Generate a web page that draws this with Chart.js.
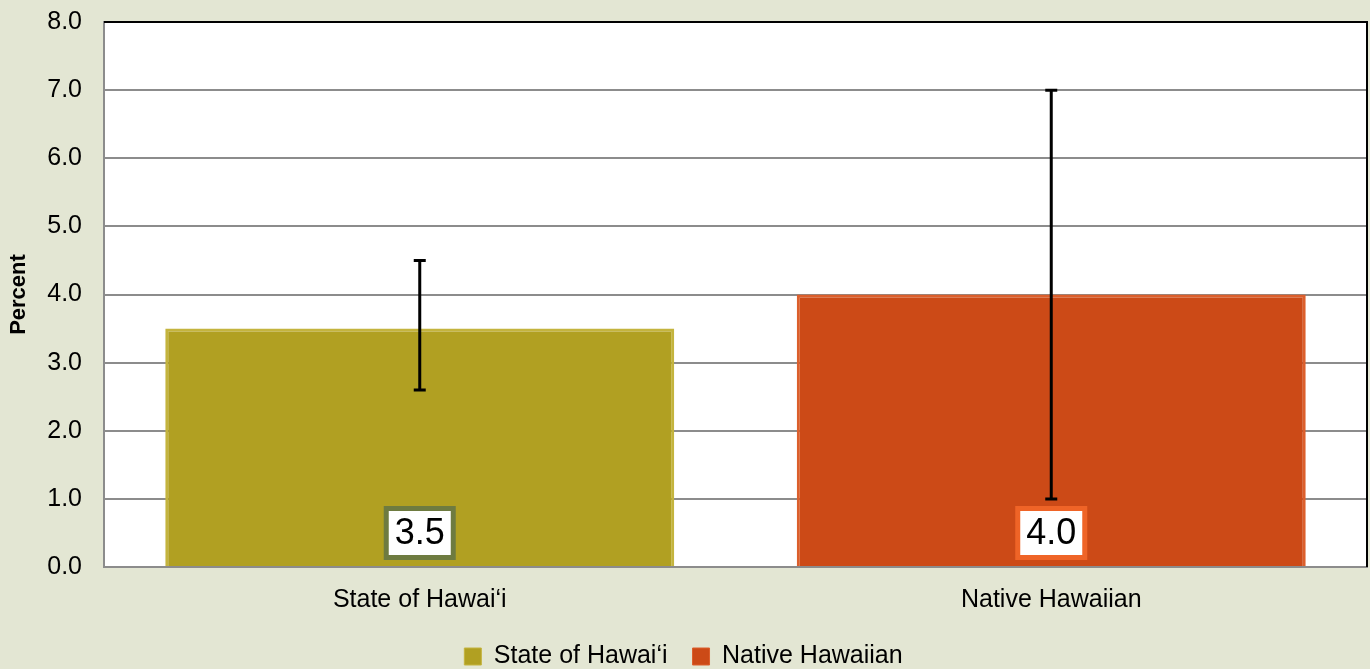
<!DOCTYPE html>
<html>
<head>
<meta charset="utf-8">
<script src="https://cdn.jsdelivr.net/npm/chart.js@4.4.1/dist/chart.umd.min.js"></script>
<style>
  html, body { margin: 0; padding: 0; background: #e3e6d3; }
  #wrap { width: 1370px; height: 669px; position: relative; }
</style>
</head>
<body>
<div id="wrap"><canvas id="myChart"></canvas></div>
<script>
const categories = ['State of Hawai\u2018i', 'Native Hawaiian'];
const percentValues = [3.5, 4.0];
const ciLower = [2.6, 1.0];
const ciUpper = [4.5, 7.0];
const yTicks = [0, 1, 2, 3, 4, 5, 6, 7, 8];

const barColors = ['#b1a022', '#cc4a17'];
const barRims = ['#c4b43e', '#dc5f2c'];
const labelBorders = ['#6e7b40', '#ef6427'];
const FONT = '"Liberation Sans", Arial, sans-serif';

// error bars + boxed value labels near the bar base
const extrasPlugin = {
  id: 'extras',
  afterDatasetsDraw(chart) {
    const ctx = chart.ctx;
    const x = chart.scales.x;
    const y = chart.scales.y;
    ctx.save();
    categories.forEach((cat, i) => {
      const cx = x.getPixelForValue(i);
      // error bar
      const top = y.getPixelForValue(ciUpper[i]);
      const bot = y.getPixelForValue(ciLower[i]);
      ctx.strokeStyle = '#000';
      ctx.lineWidth = 3;
      ctx.beginPath();
      ctx.moveTo(cx, top); ctx.lineTo(cx, bot);
      ctx.moveTo(cx - 6, top); ctx.lineTo(cx + 6, top);
      ctx.moveTo(cx - 6, bot); ctx.lineTo(cx + 6, bot);
      ctx.stroke();
      // value label
      const ly = y.bottom - 34;
      ctx.fillStyle = labelBorders[i];
      ctx.fillRect(cx - 36, ly - 27, 72, 54);
      ctx.fillStyle = '#fff';
      ctx.fillRect(cx - 31, ly - 22, 62, 44);
      ctx.fillStyle = '#000';
      ctx.font = '36px ' + FONT;
      ctx.textAlign = 'center';
      ctx.textBaseline = 'middle';
      ctx.fillText(percentValues[i].toFixed(1), cx, ly + 1);
    });
    // frame: top and right dark
    ctx.lineWidth = 2;
    ctx.strokeStyle = '#000';
    ctx.beginPath();
    ctx.moveTo(chart.chartArea.left, chart.chartArea.top);
    ctx.lineTo(chart.chartArea.right, chart.chartArea.top);
    ctx.lineTo(chart.chartArea.right, chart.chartArea.bottom);
    ctx.stroke();
    ctx.restore();
  }
};

const bgPlugin = {
  id: 'plotBg',
  beforeDraw(chart) {
    const a = chart.chartArea;
    const ctx = chart.ctx;
    ctx.save();
    ctx.fillStyle = '#e3e6d3';
    ctx.fillRect(0, 0, chart.width, chart.height);
    ctx.fillStyle = '#ffffff';
    ctx.fillRect(a.left, a.top, a.right - a.left, a.bottom - a.top);
    ctx.restore();
  }
};

const ctx = document.getElementById('myChart').getContext('2d');
new Chart(ctx, {
  type: 'bar',
  data: {
    labels: categories,
    datasets: categories.map((cat, i) => ({
      label: cat,
      data: percentValues.map((v, j) => (j === i ? v : null)),
      backgroundColor: barColors[i],
      borderColor: barRims[i],
      borderWidth: { top: 3, left: 3, right: 3, bottom: 0 },
      borderSkipped: false,
      grouped: false
    }))
  },
  options: {
    responsive: true,
    maintainAspectRatio: false,
    animation: false,
    layout: { padding: { top: 22, right: 3, left: 0, bottom: -10 } },
    datasets: { bar: { categoryPercentage: 1, barPercentage: 0.806 } },
    plugins: {
      tooltip: { enabled: false },
      legend: {
        position: 'bottom',
        labels: {
          font: { family: FONT, size: 25 },
          color: '#000',
          boxWidth: 17,
          boxHeight: 17,
          padding: 25,
          generateLabels: chart => chart.data.datasets.map((ds, i) => ({
            text: ds.label,
            fillStyle: barColors[i],
            strokeStyle: barRims[i],
            lineWidth: 1,
            fontColor: '#000',
            datasetIndex: i
          }))
        }
      }
    },
    scales: {
      x: {
        grid: { display: false, drawTicks: false },
        border: { color: '#8c8c8c', width: 2 },
        ticks: {
          color: '#000',
          padding: 18,
          font: { family: FONT, size: 25 }
        },
        afterFit(scale) {
          scale.height = 52;
        }
      },
      y: {
        min: 0,
        max: 8,
        afterBuildTicks(scale) {
          scale.ticks = yTicks.map(v => ({ value: v }));
        },
        grid: { color: '#8c8c8c', lineWidth: 2, drawTicks: false },
        border: { color: '#8c8c8c', width: 2 },
        ticks: {
          color: '#000',
          padding: 22,
          font: { family: FONT, size: 25 },
          callback: v => Number(v).toFixed(1)
        },
        title: {
          display: true,
          text: 'Percent',
          color: '#000',
          padding: { top: 6, bottom: 0 },
          font: { family: FONT, size: 22, weight: 'bold' }
        },
        afterFit(scale) {
          scale.width = 104;
          scale.paddingTop = 0;
          scale.paddingBottom = 0;
        }
      }
    }
  },
  plugins: [bgPlugin, extrasPlugin]
});
</script>
</body>
</html>
